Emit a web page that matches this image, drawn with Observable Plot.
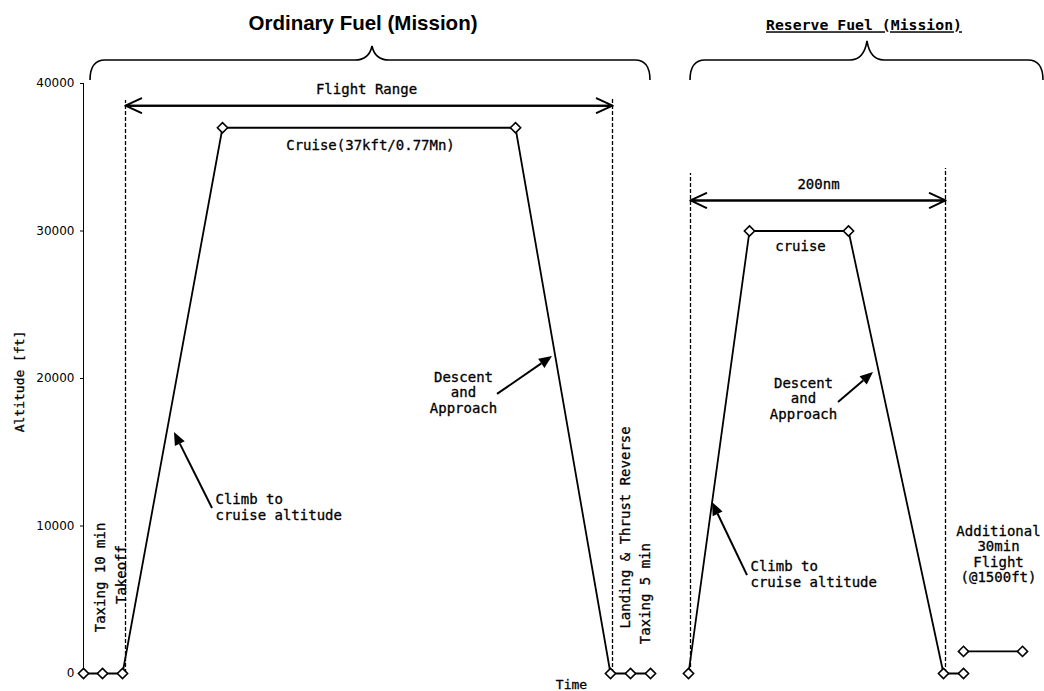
<!DOCTYPE html>
<html>
<head>
<meta charset="utf-8">
<script src="https://cdn.jsdelivr.net/npm/d3@7"></script>
<script src="https://cdn.jsdelivr.net/npm/@observablehq/plot@0.6"></script>
<style>
  html, body { margin: 0; padding: 0; background: #fff; }
  #chart svg { display: block; background: #fff; }
</style>
</head>
<body>
<div id="chart"></div>
<script>
// ---- Flight profile (time units, altitude ft) ----
const ordinaryT   = [0, 1.9, 3.9, 13.9, 43.2, 52.7, 54.7, 56.7];
const ordinaryAlt = [0, 0, 0, 37000, 37000, 0, 0, 0];
const reserveT    = [60.5, 66.6, 76.5, 86.0, 88.0];
const reserveAlt  = [0, 30000, 30000, 0, 0];
const loiterT     = [88.0, 93.9];
const loiterAlt   = [1500, 1500];

// ---- Phase boundaries (dashed) ----
const boundT   = [4.2, 52.9, 60.7, 86.2];
const boundTop = [38850, 39050, 33900, 34240];

// ---- Range arrows ----
const rangeLabels   = ["Flight Range", "200nm"];
const rangeStart    = [4.2, 60.7];
const rangeEnd      = [52.9, 86.2];
const rangeAlt      = [38500, 32070];
const rangeLabelT   = [28.3, 73.5];
const rangeLabelAlt = [39600, 33150];

// ---- Pointer arrows (tail -> head) ----
const pointerTailT   = [12.9, 66.4, 41.4, 75.5];
const pointerTailAlt = [11190, 6640, 18920, 18370];
const pointerHeadT   = [9.1, 62.9, 46.9, 79.0];
const pointerHeadAlt = [16340, 11590, 21490, 20410];

// ---- Labels ----
const noteText   = ["Climb to\ncruise altitude", "Climb to\ncruise altitude", "Descent\nand\nApproach", "Descent\nand\nApproach", "Additional\n30min\nFlight\n(@1500ft)", "Cruise(37kft/0.77Mn)", "cruise"];
const noteT      = [13.2, 66.7, 38.0, 72.0, 91.5, 28.7, 71.7];
const noteAlt    = [11290, 6745, 19050, 18640, 8100, 35860, 28950];
const noteAnchor = ["start", "start", "middle", "middle", "middle", "middle", "middle"];

const phaseText = ["Taxing 10 min", "Takeoff", "Landing & Thrust Reverse", "Taxing 5 min"];
const phaseT    = [1.7, 3.8, 54.2, 56.2];
const phaseAlt  = [6510, 6710, 9900, 5420];

// ---- Braces / section titles ----
const braceTitle    = ["Ordinary Fuel (Mission)", "Reserve Fuel (Mission)"];
const braceStart    = [0.7, 60.7];
const braceEnd      = [56.7, 96.0];
const braceTip      = [28.9, 78.4];
const braceTipAlt   = [42510, 42850];
const braceEndAlt   = 40200;
const braceTopAlt   = 41560;
const titleT        = [27.95, 78.05];
const titleAlt      = [44068, 43930];

// ---- Axis ----
const yTicks = [0, 10000, 20000, 30000, 40000];
const yLabel = "Altitude [ft]";
const yLabelT = -6.4, yLabelAlt = 19800;
const xLabel = "Time";
const xLabelT = 48.8, xLabelAlt = -800;

const mono = "DejaVu Sans Mono";
const heavy = {stroke: "black", strokeWidth: 0.3};

const ordinary = ordinaryT.map((t, i) => ({t, alt: ordinaryAlt[i]}));
const reserve  = reserveT.map((t, i) => ({t, alt: reserveAlt[i]}));
const loiter   = loiterT.map((t, i) => ({t, alt: loiterAlt[i]}));
const bounds   = boundT.map((t, i) => ({t, top: boundTop[i]}));
const ranges   = rangeLabels.map((l, i) => ({label: l, a: rangeStart[i], b: rangeEnd[i], alt: rangeAlt[i], lt: rangeLabelT[i], lalt: rangeLabelAlt[i]}));
const pointers = pointerTailT.map((t, i) => ({t1: t, a1: pointerTailAlt[i], t2: pointerHeadT[i], a2: pointerHeadAlt[i]}));
const notes    = noteText.map((s, i) => ({s, t: noteT[i], alt: noteAlt[i], anchor: noteAnchor[i]}));
const phases   = phaseText.map((s, i) => ({s, t: phaseT[i], alt: phaseAlt[i]}));
const braces   = braceTitle.map((s, i) => ({s, a: braceStart[i], b: braceEnd[i], tip: braceTip[i], tipAlt: braceTipAlt[i], tt: titleT[i], ta: titleAlt[i]}));
const yTickRows = yTicks.map(v => ({v, a: -0.3, b: 0}));
const yLabelRow = [{s: yLabel, t: yLabelT, alt: yLabelAlt}];
const xLabelRow = [{s: xLabel, t: xLabelT, alt: xLabelAlt}];

// custom render: braces
function braceMark(index, scales) {
  const {x, y} = scales;
  const g = d3.create("svg:g").attr("fill", "none").attr("stroke", "black").attr("stroke-width", 1.6);
  for (const b of braces) {
    const x0 = x(b.a), x1 = x(b.b), xp = x(b.tip);
    const ye = y(braceEndAlt), yt = y(braceTopAlt), yp = y(b.tipAlt);
    const r = 15;
    const d = `M${x0},${ye} Q${x0},${yt} ${x0 + r},${yt} L${xp - 17},${yt} Q${xp - 3},${yt} ${xp},${yp} Q${xp + 3},${yt} ${xp + 17},${yt} L${x1 - r},${yt} Q${x1},${yt} ${x1},${ye}`;
    g.append("path").attr("d", d);
  }
  return g.node();
}

// custom render: pointer arrows with filled heads
function pointerMark(index, scales) {
  const {x, y} = scales;
  const g = d3.create("svg:g");
  for (const p of pointers) {
    const xa = x(p.t1), ya = y(p.a1), xb = x(p.t2), yb = y(p.a2);
    const ang = Math.atan2(yb - ya, xb - xa);
    const L = 13, W = 5.5;
    const bx = xb - L * Math.cos(ang), by = yb - L * Math.sin(ang);
    g.append("line").attr("x1", xa).attr("y1", ya).attr("x2", bx).attr("y2", by)
      .attr("stroke", "black").attr("stroke-width", 2);
    const px = -Math.sin(ang), py = Math.cos(ang);
    g.append("path")
      .attr("d", `M${xb},${yb} L${bx + W * px},${by + W * py} L${bx - W * px},${by - W * py} Z`)
      .attr("fill", "black");
  }
  return g.node();
}

const plot = Plot.plot({
  width: 1044,
  height: 691,
  marginLeft: 83,
  marginRight: 0,
  marginTop: 83,
  marginBottom: 18,
  x: {type: "linear", domain: [0, 96.1], axis: null},
  y: {type: "linear", domain: [0, 40000], axis: null},
  style: {background: "#fff", color: "black"},
  marks: [
    // y axis
    Plot.ruleX([0], {x: d => d, y1: 0, y2: 40000, stroke: "black", strokeWidth: 1}),
    Plot.ruleY(yTickRows, {y: "v", x1: "a", x2: "b", stroke: "black", strokeWidth: 1}),
    Plot.text(yTickRows, {x: "b", y: "v", text: d => String(d.v), textAnchor: "end", dx: -9, fontFamily: "DejaVu Sans", fontSize: 12, fill: "black"}),
    Plot.text(yLabelRow, {x: "t", y: "alt", text: "s", rotate: -90, fontFamily: mono, fontSize: 13, fill: "black", ...heavy}),
    Plot.text(xLabelRow, {x: "t", y: "alt", text: "s", fontFamily: mono, fontSize: 13, fill: "black", ...heavy}),

    // phase boundaries
    Plot.ruleX(bounds, {x: "t", y1: 0, y2: "top", stroke: "black", strokeWidth: 1.3, strokeDasharray: "4,2"}),

    // range arrows (both directions)
    Plot.arrow(ranges, {x1: "a", x2: "b", y1: "alt", y2: "alt", stroke: "black", strokeWidth: 2, headAngle: 50, headLength: 13}),
    Plot.arrow(ranges, {x1: "b", x2: "a", y1: "alt", y2: "alt", stroke: "black", strokeWidth: 2, headAngle: 50, headLength: 13}),
    Plot.text(ranges, {x: "lt", y: "lalt", text: "label", fontFamily: mono, fontSize: 14, fill: "black", ...heavy}),

    // profiles
    Plot.line(ordinary, {x: "t", y: "alt", stroke: "black", strokeWidth: 1.8}),
    Plot.line(reserve, {x: "t", y: "alt", stroke: "black", strokeWidth: 1.8}),
    Plot.line(loiter, {x: "t", y: "alt", stroke: "black", strokeWidth: 1.8}),
    Plot.dot([...ordinary, ...reserve, ...loiter], {x: "t", y: "alt", symbol: "diamond2", r: 4.6, fill: "white", stroke: "black", strokeWidth: 1.6}),

    // pointer arrows
    pointerMark,

    // notes
    Plot.text(notes, {x: "t", y: "alt", text: "s", textAnchor: "start", filter: d => d.anchor === "start", lineHeight: 1.1, fontFamily: mono, fontSize: 14, fill: "black", ...heavy}),
    Plot.text(notes, {x: "t", y: "alt", text: "s", textAnchor: "middle", filter: d => d.anchor === "middle", lineHeight: 1.1, fontFamily: mono, fontSize: 14, fill: "black", ...heavy}),
    Plot.text(phases, {x: "t", y: "alt", text: "s", rotate: -90, fontFamily: mono, fontSize: 14, fill: "black", ...heavy}),

    // braces and titles
    braceMark,
    Plot.text(braces.slice(0, 1), {x: "tt", y: "ta", text: "s", fontFamily: "Liberation Sans", fontWeight: "bold", fontSize: 20.5, fill: "black"}),
    Plot.text(braces.slice(1), {x: "tt", y: "ta", text: "s", fontFamily: mono, fontWeight: "bold", fontSize: 14.8, fill: "black"})
  ]
});

// underline the reserve title
plot.querySelectorAll("text").forEach(t => {
  if (t.textContent === braceTitle[1]) t.setAttribute("text-decoration", "underline");
});

document.getElementById("chart").appendChild(plot);
</script>
</body>
</html>
